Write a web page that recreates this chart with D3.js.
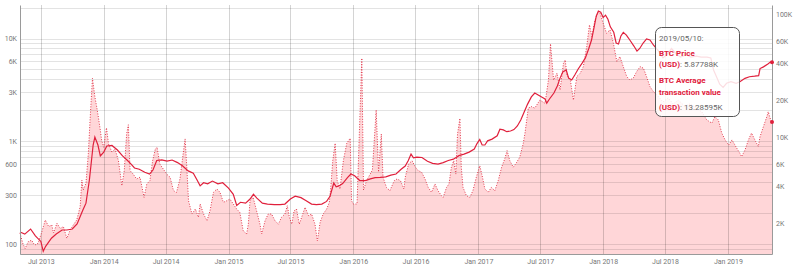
<!DOCTYPE html>
<html>
<head>
<meta charset="utf-8">
<script src="https://cdn.jsdelivr.net/npm/d3@7"></script>
<style>
body { margin: 0; background: #fff; }
svg { font-family: Roboto, sans-serif; display: block; }
.axis text { fill: #777; font-size: 7px; }
.axis path { stroke: #9a9a9a; }
</style>
</head>
<body>
<svg id="chart"></svg>
<script>
// BTC price (left axis, USD)
let priceDates = ['2013-05-01','2013-05-15','2013-06-01','2013-06-15','2013-07-01','2013-07-08','2013-07-15','2013-08-01','2013-08-15','2013-09-01','2013-09-15','2013-10-01','2013-10-15','2013-11-01','2013-11-10','2013-11-20','2013-12-01','2013-12-06','2013-12-15','2013-12-22',
'2014-01-01','2014-01-10','2014-01-25','2014-02-10','2014-02-25','2014-03-10','2014-03-20','2014-04-01','2014-04-15','2014-05-01','2014-05-15','2014-05-25','2014-06-05','2014-06-20','2014-07-05','2014-07-20','2014-08-05','2014-08-20','2014-09-05','2014-09-20','2014-10-01','2014-10-10','2014-10-20','2014-11-01','2014-11-15','2014-12-01','2014-12-15',
'2015-01-01','2015-01-15','2015-01-25','2015-02-05','2015-02-20','2015-03-05','2015-03-15','2015-03-25','2015-04-10','2015-04-25','2015-05-15','2015-06-01','2015-06-15','2015-07-01','2015-07-15','2015-08-01','2015-08-15','2015-09-01','2015-09-15','2015-10-01','2015-10-15','2015-10-25','2015-11-05','2015-11-12','2015-11-20','2015-12-01','2015-12-15','2015-12-25',
'2016-01-05','2016-01-20','2016-02-05','2016-02-20','2016-03-05','2016-03-20','2016-04-05','2016-04-20','2016-05-05','2016-05-20','2016-06-01','2016-06-10','2016-06-18','2016-06-25','2016-07-05','2016-07-20','2016-08-05','2016-08-20','2016-09-05','2016-09-20','2016-10-05','2016-10-20','2016-11-05','2016-11-20','2016-12-05','2016-12-20','2016-12-28',
'2017-01-05','2017-01-12','2017-01-20','2017-01-28','2017-02-10','2017-02-25','2017-03-05','2017-03-15','2017-03-25','2017-04-05','2017-04-15','2017-04-25','2017-05-05','2017-05-15','2017-05-25','2017-06-05','2017-06-15','2017-06-25','2017-07-05','2017-07-15','2017-07-20','2017-07-28','2017-08-10','2017-08-20','2017-08-28','2017-09-05','2017-09-15','2017-09-22','2017-10-01','2017-10-10','2017-10-20','2017-11-01','2017-11-10','2017-11-20','2017-11-28','2017-12-05','2017-12-12','2017-12-18','2017-12-25',
'2018-01-01','2018-01-08','2018-01-15','2018-01-22','2018-02-01','2018-02-08','2018-02-15','2018-02-22','2018-03-01','2018-03-10','2018-03-20','2018-04-01','2018-04-10','2018-04-18','2018-04-28','2018-05-08','2018-05-18','2018-05-28','2018-06-10','2018-06-25','2018-07-05','2018-07-20','2018-08-01','2018-08-15','2018-09-01','2018-09-15','2018-10-01','2018-10-15','2018-11-01','2018-11-12','2018-11-20','2018-11-28','2018-12-08','2018-12-18','2018-12-28',
'2019-01-10','2019-01-25','2019-02-05','2019-02-20','2019-03-05','2019-03-20','2019-04-01','2019-04-05','2019-04-15','2019-04-28','2019-05-05','2019-05-10']
let priceValues = [131,125,140,120,106,85,95,114,125,137,137,140,157,214,250,420,920,1100,920,720,
785,900,910,822,720,657,610,550,535,500,480,525,650,660,640,657,620,575,515,490,420,368,395,385,410,385,395,
350,305,238,255,250,274,305,280,250,245,242,242,245,274,292,283,265,245,242,245,260,292,392,360,368,388,443,480,
462,415,415,430,443,445,450,469,480,535,575,650,750,690,700,695,640,610,600,620,650,670,725,750,785,840,950,
1040,920,920,1010,1050,1130,1310,1290,1240,1260,1300,1410,1610,1930,2300,2700,2950,2820,2700,2580,2350,2580,2950,3450,4120,4740,4940,4120,3950,4410,5050,5800,6480,8000,9670,12600,16600,18500,18000,
16000,16900,15400,13000,11500,9050,8850,10600,11500,10800,9670,8450,7550,8000,9050,9900,9670,8650,7730,6480,6910,8000,7200,6600,6910,6600,6750,6600,6600,6480,4940,4300,3600,3350,3670,
3800,3670,3800,4100,4250,4300,4350,5100,5300,5650,5900,5878]

// BTC average transaction value (right axis, USD)
let txDates = ['2013-05-01','2013-05-09','2013-05-16','2013-05-25','2013-06-04','2013-06-13','2013-06-23','2013-07-04','2013-07-14','2013-07-24','2013-08-02','2013-08-07','2013-08-17','2013-08-27','2013-09-05','2013-09-15','2013-09-25','2013-10-04','2013-10-14','2013-10-24','2013-10-29','2013-11-02','2013-11-10','2013-11-17','2013-11-22','2013-11-29','2013-12-06','2013-12-13','2013-12-21','2013-12-26',
'2014-01-01','2014-01-05','2014-01-09','2014-01-15','2014-01-25','2014-02-03','2014-02-13','2014-02-23','2014-03-02','2014-03-09','2014-03-14','2014-03-19','2014-03-28','2014-04-07','2014-04-17','2014-04-29','2014-05-07','2014-05-16','2014-05-24','2014-06-01','2014-06-06','2014-06-14','2014-06-24','2014-07-04','2014-07-14','2014-07-24','2014-08-02','2014-08-12','2014-08-20','2014-08-27','2014-09-01','2014-09-06','2014-09-16','2014-09-26','2014-10-05','2014-10-10','2014-10-20','2014-10-30','2014-11-08','2014-11-18','2014-11-28','2014-12-07','2014-12-17','2014-12-27',
'2015-01-05','2015-01-15','2015-01-25','2015-02-03','2015-02-13','2015-02-23','2015-02-28','2015-03-05','2015-03-14','2015-03-24','2015-04-03','2015-04-08','2015-04-18','2015-04-27','2015-05-07','2015-05-17','2015-05-27','2015-06-05','2015-06-15','2015-06-22','2015-06-28','2015-07-05','2015-07-12','2015-07-19','2015-07-27','2015-08-03','2015-08-13','2015-08-23','2015-09-01','2015-09-11','2015-09-18','2015-09-26','2015-10-05','2015-10-15','2015-10-23','2015-10-28','2015-11-02','2015-11-09','2015-11-15','2015-11-23','2015-12-03','2015-12-13','2015-12-23','2015-12-27',
'2016-01-01','2016-01-12','2016-01-26','2016-01-31','2016-02-09','2016-02-26','2016-03-08','2016-03-15','2016-03-23','2016-03-28','2016-04-07','2016-04-17','2016-04-30','2016-05-08','2016-05-18','2016-05-28','2016-06-01','2016-06-11','2016-06-21','2016-07-01','2016-07-09','2016-07-19','2016-07-29','2016-08-07','2016-08-17','2016-08-27','2016-09-05','2016-09-15','2016-09-20','2016-09-30','2016-10-07','2016-10-14','2016-10-21','2016-10-27','2016-11-01','2016-11-08','2016-11-12','2016-11-17','2016-11-27','2016-12-07','2016-12-16','2016-12-26',
'2017-01-05','2017-01-13','2017-01-20','2017-01-30','2017-02-08','2017-02-18','2017-02-28','2017-03-10','2017-03-19','2017-03-26','2017-04-03','2017-04-13','2017-04-23','2017-05-02','2017-05-12','2017-05-17','2017-05-27','2017-06-05','2017-06-15','2017-06-30','2017-07-15','2017-07-25','2017-07-31','2017-08-09','2017-08-19','2017-08-28','2017-09-07','2017-09-12','2017-09-17','2017-09-27','2017-10-06','2017-10-16','2017-10-26','2017-11-04','2017-11-14','2017-11-22','2017-11-29','2017-12-08','2017-12-18','2017-12-23',
'2018-01-01','2018-01-11','2018-01-21','2018-01-31','2018-02-10','2018-02-19','2018-03-01','2018-03-11','2018-03-20','2018-03-30','2018-04-09','2018-04-19','2018-04-29','2018-05-08','2018-05-18','2018-05-28','2018-06-10','2018-06-25','2018-07-10','2018-07-25','2018-08-09','2018-08-27','2018-09-12','2018-09-30','2018-10-17','2018-10-31','2018-11-15','2018-11-24','2018-12-04','2018-12-14','2018-12-24',
'2019-01-03','2019-01-13','2019-01-27','2019-02-05','2019-02-10','2019-02-20','2019-03-02','2019-03-11','2019-03-21','2019-03-31','2019-04-05','2019-04-15','2019-04-25','2019-04-29','2019-05-06','2019-05-10']
let txValues = [1670,1380,1250,1420,1460,1330,1380,1710,2130,1880,1940,1670,2000,1820,1880,1510,1770,1940,2130,2730,4490,3730,4230,7400,13800,30100,21300,16600,11900,9370,
8280,9980,11900,8810,7540,8020,6440,4040,5350,10600,12600,5350,5020,4580,4730,3250,4170,4440,6440,8020,8280,6060,5520,5020,4730,3680,3570,4580,6870,9670,5700,3050,2380,2610,2240,2870,2380,2100,2530,3570,3800,3570,2960,3050,
3150,2870,2610,2460,1740,1640,1970,3050,3250,2530,1970,1640,2100,2380,2380,2100,1970,2240,2380,2780,2240,1970,2530,2610,1970,2240,2700,2310,2380,1970,1440,2040,2380,2610,2960,4170,6440,8920,4440,3800,6440,8920,9800,3050,
2870,2870,43700,3730,4440,5420,16600,5220,10600,4730,3920,3680,4440,4580,4440,3800,4730,6060,6440,5700,5350,5190,4580,3920,3570,4170,3680,3350,3250,3920,4170,5700,6440,5020,10600,14200,5700,3920,3350,3250,3680,4730,
5870,4730,3800,3570,3920,3680,4440,5700,6650,7770,6440,5700,6250,6870,8810,10600,17200,17700,17200,20000,18800,29100,57100,29100,33000,24200,39800,42300,32000,29100,20000,31000,33000,37300,54300,81500,65400,89400,104000,101000,
84000,69700,74100,57800,41000,45000,37300,31000,29100,30100,34000,37300,36200,31000,25700,23400,21600,19300,20800,18600,20000,17900,18600,17300,16000,13800,13000,14700,13800,10800,9490,
8640,9490,8130,7400,6950,7870,9490,10800,9490,8380,10100,12200,14700,16100,13800,13286]

let xTickDates = ['2013-07-01','2014-01-01','2014-07-01','2015-01-01','2015-07-01','2016-01-01','2016-07-01','2017-01-01','2017-07-01','2018-01-01','2018-07-01','2019-01-01']
let leftTicks = [100, 300, 600, 1000, 3000, 6000, 10000]
let leftTickLabels = ['100', '300', '600', '1K', '3K', '6K', '10K']
let rightTicks = [2000, 4000, 6000, 10000, 20000, 40000, 60000, 100000]
let rightTickLabels = ['2K', '4K', '6K', '10K', '20K', '40K', '60K', '100K']

let width = 800
let height = 268
let plotLeft = 20
let plotRight = 772
let plotTop = 5
let plotBottom = 254

let parse = d3.timeParse('%Y-%m-%d')
let price = priceDates.map((d, i) => ({date: parse(d), value: priceValues[i]}))
let tx = txDates.map((d, i) => ({date: parse(d), value: txValues[i]}))

let svg = d3.select('#chart').attr('width', width).attr('height', height)

let xScale = d3.scaleTime()
    .domain(d3.extent(price, d => d.date))
    .range([plotLeft, plotRight])
let yLeft = d3.scaleLog().domain([80, 21200]).range([plotBottom, plotTop])
let yRight = d3.scaleLog().domain([1128, 118000]).range([plotBottom, plotTop])

// area under the average transaction value
let area = d3.area()
    .x(d => xScale(d.date))
    .y0(plotBottom)
    .y1(d => yRight(d.value))

svg.append('path')
    .datum(tx)
    .attr('d', area)
    .attr('fill', '#ffd6d8')

// grid
let grid = svg.append('g')
grid.selectAll('.hgrid')
    .data(yLeft.ticks())
    .enter()
    .append('line')
    .attr('x1', plotLeft)
    .attr('x2', plotRight)
    .attr('y1', d => Math.round(yLeft(d)) + 0.5)
    .attr('y2', d => Math.round(yLeft(d)) + 0.5)
    .attr('stroke', '#000')
    .attr('stroke-opacity', 0.11)
grid.selectAll('.vgrid')
    .data(xTickDates)
    .enter()
    .append('line')
    .attr('x1', d => Math.round(xScale(parse(d))) + 0.5)
    .attr('x2', d => Math.round(xScale(parse(d))) + 0.5)
    .attr('y1', plotTop)
    .attr('y2', plotBottom)
    .attr('stroke', '#000')
    .attr('stroke-opacity', 0.17)

// dotted line: avg transaction value
svg.append('path')
    .datum(tx)
    .attr('d', d3.line().x(d => xScale(d.date)).y(d => yRight(d.value)))
    .attr('fill', 'none')
    .attr('stroke', '#e23a4e')
    .attr('stroke-width', 1)
    .attr('stroke-dasharray', '1,1.6')

// solid line: price
svg.append('path')
    .datum(price)
    .attr('d', d3.line().x(d => xScale(d.date)).y(d => yLeft(d.value)))
    .attr('fill', 'none')
    .attr('stroke', '#e0203c')
    .attr('stroke-width', 1.2)

// axes
svg.append('g')
    .attr('class', 'axis')
    .attr('transform', 'translate(' + plotLeft + ',0)')
    .call(d3.axisLeft(yLeft).tickValues(leftTicks).tickFormat((d, i) => leftTickLabels[i]).tickSize(0).tickPadding(3))

svg.append('g')
    .attr('class', 'axis')
    .attr('transform', 'translate(' + plotRight + ',0)')
    .call(d3.axisRight(yRight).tickValues(rightTicks).tickFormat((d, i) => rightTickLabels[i]).tickSize(0).tickPadding(4))

svg.append('g')
    .attr('class', 'axis')
    .attr('transform', 'translate(0,' + plotBottom + ')')
    .call(d3.axisBottom(xScale).tickValues(xTickDates.map(parse)).tickFormat(d3.timeFormat('%b %Y')).tickSize(0).tickPadding(5))

svg.selectAll('.axis text').attr('font-family', 'Roboto, sans-serif')

// markers at the last point
let lastPrice = price[price.length - 1]
let lastTx = tx[tx.length - 1]
svg.append('circle')
    .attr('cx', xScale(lastPrice.date))
    .attr('cy', yLeft(lastPrice.value))
    .attr('r', 2)
    .attr('fill', '#e0203c')
svg.append('circle')
    .attr('cx', xScale(lastTx.date))
    .attr('cy', yRight(lastTx.value))
    .attr('r', 2)
    .attr('fill', '#e0203c')

// tooltip
let tip = svg.append('g').attr('transform', 'translate(655,27)')
tip.append('rect')
    .attr('x', 0.5)
    .attr('y', 0.5)
    .attr('width', 84)
    .attr('height', 89)
    .attr('rx', 6)
    .attr('fill', '#fff')
    .attr('fill-opacity', 0.85)
    .attr('stroke', '#555')

let tipLines = [
    [['2019/05/10:', false]],
    [['BTC Price', true]],
    [['(USD)', true], [': 5.87788K', false]],
    [['BTC Average', true]],
    [['transaction value', true]],
    [['(USD)', true], [': 13.28595K', false]]
]
let tipY = [14, 28.5, 40, 55.5, 67.5, 83]
tipLines.forEach((parts, i) => {
    let t = tip.append('text')
        .attr('x', 4)
        .attr('y', tipY[i])
        .attr('font-size', 8)
    parts.forEach(p => {
        t.append('tspan')
            .attr('font-weight', p[1] ? 'bold' : 'normal')
            .attr('fill', p[1] ? '#e0203c' : '#666')
            .text(p[0])
    })
})
</script>
</body>
</html>
